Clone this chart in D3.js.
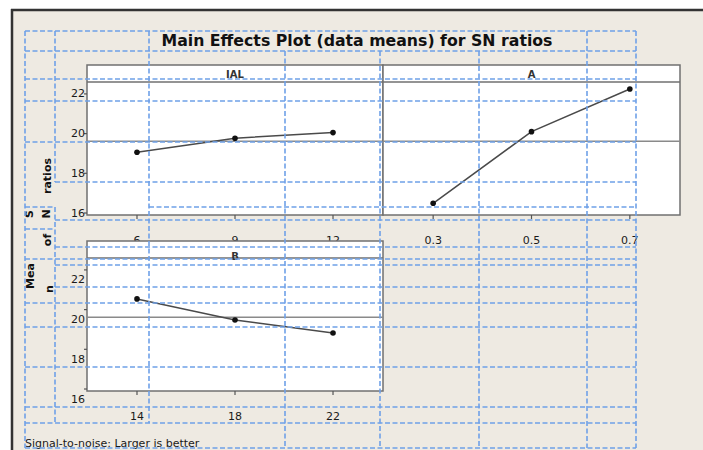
<!DOCTYPE html>
<meta charset="utf-8">
<script src="https://d3js.org/d3.v7.min.js"></script>
<style>
  body { margin: 0; background: #fff; }
  text { font-family: "DejaVu Sans", sans-serif; }
</style>
<div id="my_dataviz"></div>
<script>
  // level means
  var levelsIAL = ["6", "9", "12"];
  var meansIAL = [19.06, 19.77, 20.05];
  var levelsA = ["0.3", "0.5", "0.7"];
  var meansA = [16.49, 20.10, 22.25];
  var levelsB = ["14", "18", "22"];
  var meansB = [20.54, 19.48, 18.82];
  var yTicks = [16, 18, 20, 22];

  var width = 703, height = 450;
  var stripH = 17, plotH = 133;

  var svg = d3.select("#my_dataviz")
    .append("svg")
    .attr("width", width)
    .attr("height", height);

  // window background + frame
  svg.append("rect").attr("x", 12).attr("y", 10).attr("width", width - 12).attr("height", height - 10)
    .attr("fill", "#eeeae2");
  svg.append("line").attr("x1", 11).attr("x2", width).attr("y1", 10).attr("y2", 10)
    .attr("stroke", "#333").attr("stroke-width", 2.5);
  svg.append("line").attr("x1", 12).attr("x2", 12).attr("y1", 9).attr("y2", height)
    .attr("stroke", "#333").attr("stroke-width", 2.5);

  // panels: x0, x1, top of strip, whether y labels are drawn, label shift
  var panels = [
    { name: "IAL", levels: levelsIAL, means: meansIAL, x0: 87, x1: 383, top: 65, yAxis: true, labShift: 0 },
    { name: "A", levels: levelsA, means: meansA, x0: 383, x1: 680, top: 65, yAxis: false, labShift: 0 },
    { name: "B", levels: levelsB, means: meansB, x0: 87, x1: 383, top: 241, yAxis: true, labShift: 10 }
  ];

  var grandMean = d3.mean([].concat(meansIAL, meansA, meansB));

  panels.forEach(function (p) {
    var g = svg.append("g");
    var plotTop = p.top + stripH, plotBottom = plotTop + plotH;

    var x = d3.scalePoint().domain(p.levels).range([p.x0, p.x1]).padding(0.51);
    var y = d3.scaleLinear().domain([15.9, 22.6]).range([plotBottom, plotTop]);

    // strip + plot area
    g.append("rect").attr("x", p.x0).attr("y", p.top).attr("width", p.x1 - p.x0).attr("height", stripH + plotH)
      .attr("fill", "#fff").attr("stroke", "#707070").attr("stroke-width", 1.5);
    g.append("line").attr("x1", p.x0).attr("x2", p.x1).attr("y1", plotTop).attr("y2", plotTop)
      .attr("stroke", "#707070").attr("stroke-width", 1.5);
    g.append("text").attr("x", (p.x0 + p.x1) / 2).attr("y", p.top + (p.name === "B" ? 15 : 9))
      .attr("text-anchor", "middle").attr("dominant-baseline", "central")
      .style("font-size", "10px").style("font-weight", "bold").attr("fill", "#333")
      .text(p.name);

    // grand mean reference line
    g.append("line").attr("x1", p.x0).attr("x2", p.x1)
      .attr("y1", y(grandMean)).attr("y2", y(grandMean))
      .attr("stroke", "#8a8a8a").attr("stroke-width", 1.5);

    // x ticks + labels
    g.selectAll(null).data(p.levels).enter().append("line")
      .attr("x1", function (d) { return x(d); }).attr("x2", function (d) { return x(d); })
      .attr("y1", plotBottom).attr("y2", plotBottom + 4)
      .attr("stroke", "#555").attr("stroke-width", 1.2);
    g.selectAll(null).data(p.levels).enter().append("text")
      .attr("x", function (d) { return x(d); }).attr("y", plotBottom + 25)
      .attr("text-anchor", "middle").attr("dominant-baseline", "central")
      .style("font-size", "11px").attr("fill", "#1a1a1a")
      .text(function (d) { return d; });

    // y ticks + labels
    if (p.yAxis) {
      g.selectAll(null).data(yTicks).enter().append("line")
        .attr("x1", p.x0 - 3).attr("x2", p.x0)
        .attr("y1", function (d) { return y(d); }).attr("y2", function (d) { return y(d); })
        .attr("stroke", "#555").attr("stroke-width", 1.2);
      g.selectAll(null).data(yTicks).enter().append("text")
        .attr("x", p.x0 - 2).attr("y", function (d) { return y(d) + p.labShift; })
        .attr("text-anchor", "end").attr("dominant-baseline", "central")
        .style("font-size", "11px").attr("fill", "#1a1a1a")
        .text(function (d) { return d; });
    }

    // means line + points
    var pts = p.levels.map(function (l, i) { return [x(l), y(p.means[i])]; });
    g.append("path").attr("d", d3.line()(pts))
      .attr("fill", "none").attr("stroke", "#4a4a4a").attr("stroke-width", 1.5);
    g.selectAll(null).data(pts).enter().append("circle")
      .attr("cx", function (d) { return d[0]; }).attr("cy", function (d) { return d[1]; })
      .attr("r", 2.8).attr("fill", "#111");
  });

  // title
  svg.append("text").attr("x", 357).attr("y", 41)
    .attr("text-anchor", "middle").attr("dominant-baseline", "central")
    .style("font-size", "15px").style("font-weight", "bold").attr("fill", "#111")
    .attr("textLength", 391).attr("lengthAdjust", "spacingAndGlyphs")
    .text("Main Effects Plot (data means) for SN ratios");

  // y title, broken up by the table cells
  var yTitleParts = [["ratios", 47, 176], ["S", 29, 214], ["N", 46, 214], ["of", 47, 240], ["Mea", 30, 276], ["n", 49, 289]];
  svg.selectAll(null).data(yTitleParts).enter().append("text")
    .attr("transform", function (d) { return "translate(" + d[1] + "," + d[2] + ") rotate(-90)"; })
    .attr("text-anchor", "middle").attr("dominant-baseline", "central")
    .style("font-size", "11px").style("font-weight", "bold").attr("fill", "#111")
    .text(function (d) { return d[0]; });

  // footnote
  svg.append("text").attr("x", 25).attr("y", 443)
    .attr("dominant-baseline", "central")
    .style("font-size", "11px").attr("fill", "#1a1a1a")
    .text("Signal-to-noise: Larger is better");

  // dashed table grid laid over the picture
  var gridH = [
    [31, 25, 636], [51, 25, 636], [79, 25, 636], [101, 25, 636], [142, 25, 636],
    [182, 55, 636], [207, 25, 55], [207, 149, 636], [220, 55, 636], [229, 25, 55],
    [247, 55, 636], [259, 25, 636], [265, 55, 636], [287, 55, 636], [303, 25, 636],
    [327, 25, 636], [367, 25, 636], [407, 25, 636], [423, 25, 636], [448, 25, 636]
  ];
  var gridV = [
    [25, 31, 448], [55, 31, 182], [55, 207, 423], [149, 31, 423], [285, 51, 448],
    [380, 51, 448], [479, 51, 448], [587, 31, 448], [636, 31, 448]
  ];
  var grid = svg.append("g")
    .attr("stroke", "#6fa1e8").attr("stroke-width", 1.6).attr("stroke-dasharray", "5,2.5");
  grid.selectAll(null).data(gridH).enter().append("line")
    .attr("x1", function (d) { return d[1]; }).attr("x2", function (d) { return d[2]; })
    .attr("y1", function (d) { return d[0]; }).attr("y2", function (d) { return d[0]; });
  grid.selectAll(null).data(gridV).enter().append("line")
    .attr("x1", function (d) { return d[0]; }).attr("x2", function (d) { return d[0]; })
    .attr("y1", function (d) { return d[1]; }).attr("y2", function (d) { return d[2]; });
</script>
